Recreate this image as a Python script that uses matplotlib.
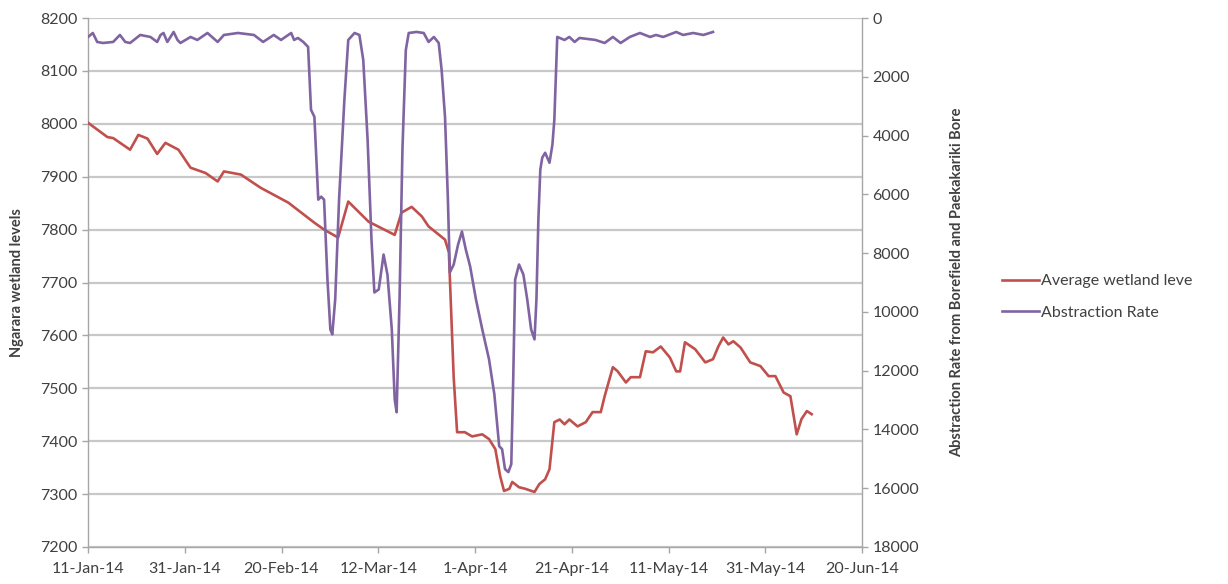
import matplotlib
matplotlib.use("Agg")
import matplotlib.pyplot as plt
import pandas as pd

start = pd.Timestamp("2014-01-11")

# Average wetland level (left axis): day offset from 11-Jan-14, value
level_days = [0, 4.0, 5.2, 8.7, 10.4, 12.3, 14.3, 16.0, 18.7, 21.2, 24.3, 26.8, 28.1, 31.6,
              35.7, 41.4, 46.8, 48.8, 51.7, 53.8, 58.0, 63.4, 64.8, 66.9, 69.0, 70.4, 73.8,
              74.6, 75.6, 76.3, 77.9, 79.4, 81.5, 82.9, 84.2, 85.2, 86.0, 87.1, 87.7, 89.1,
              90.4, 92.3, 93.3, 94.5, 95.4, 96.4, 97.5, 98.5, 99.5, 101.2, 102.9, 104.3,
              106.0, 106.8, 108.5, 109.5, 111.2, 112.2, 114.1, 115.3, 116.8, 118.4, 120.3,
              121.6, 122.4, 123.4, 125.5, 127.6, 129.2, 130.3, 131.3, 132.4, 133.4, 134.9,
              136.9, 139.0, 140.7, 142.1, 143.8, 145.2, 146.5, 147.5, 148.6, 149.6]
level_vals = [8002, 7975, 7973, 7951, 7979, 7972, 7943, 7964, 7951, 7917, 7907, 7891, 7910, 7904,
              7879, 7851, 7813, 7800, 7785, 7853, 7815, 7790, 7832, 7843, 7825, 7806, 7781,
              7757, 7520, 7417, 7417, 7409, 7413, 7404, 7385, 7334, 7306, 7310, 7323, 7313,
              7310, 7304, 7319, 7328, 7347, 7436, 7441, 7432, 7441, 7428, 7436, 7455,
              7455, 7485, 7540, 7532, 7511, 7521, 7521, 7570, 7568, 7579, 7558,
              7532, 7532, 7587, 7574, 7549, 7555, 7579, 7596, 7583, 7589, 7577,
              7549, 7542, 7523, 7523, 7492, 7485, 7413, 7442, 7457, 7451]

# Abstraction rate (right axis, inverted): day offset, value
abs_days = [0, 1.0, 1.9, 3.1, 5.2, 6.6, 7.7, 8.7, 10.8, 12.9, 14.3, 15.0, 15.6, 16.4, 17.7,
            18.5, 19.1, 21.2, 22.6, 24.7, 26.8, 28.1, 31.0, 34.3, 36.2, 38.4, 39.9, 41.4,
            42.0, 42.6, 43.4, 44.5, 45.5, 46.1, 46.8, 47.6, 48.2, 48.8, 49.5, 50.1, 50.5,
            51.1, 51.9, 53.0, 53.8, 55.1, 56.1, 56.9, 57.8, 58.6, 59.2, 60.1, 61.1, 61.9,
            62.8, 63.4, 63.8, 64.4, 65.0, 65.7, 66.3, 67.9, 69.4, 70.4, 71.5, 72.5, 73.1,
            73.8, 74.4, 74.8, 75.6, 76.5, 77.3, 78.1, 79.0, 80.2, 81.5, 82.9, 84.0, 85.0,
            85.6, 86.2, 86.9, 87.5, 87.9, 88.3, 89.1, 90.0, 90.8, 91.6, 92.3, 92.7, 93.1,
            93.5, 93.9, 94.5, 95.4, 96.0, 96.4, 97.0, 98.5, 99.5, 100.6, 101.6, 104.9,
            106.8, 108.5, 110.1, 112.0, 114.1, 116.2, 117.4, 118.9, 121.6, 123.0, 125.1,
            127.2, 129.2]
abs_vals = [645, 510, 815, 850, 815, 577, 815, 850, 577, 645, 815, 577, 510, 815, 475,
            747, 850, 645, 747, 510, 815, 577, 510, 577, 815, 577, 747, 577,
            510, 747, 679, 815, 985, 3124, 3362, 6181, 6079, 6181, 8900, 10600, 10765,
            9577, 6181, 2785, 747, 510, 577, 1426, 4143, 7539, 9339, 9237, 8049, 8728,
            10595, 12973, 13414, 9577, 4483, 1087, 510, 475, 510, 815, 645, 850, 1766,
            3362, 6181, 8660, 8388, 7709, 7267, 7879, 8456, 9577, 10595, 11614, 12803, 14569,
            14671, 15350, 15452, 15180, 12293, 8898, 8388, 8728, 9577, 10595, 10935, 9577, 6860,
            5162, 4754, 4585, 4924, 4313, 3464, 645, 747, 645, 815, 679, 747,
            850, 645, 850, 645, 510, 645, 577, 645, 475, 577, 510,
            577, 475]

x_ticks = ["2014-01-11", "2014-01-31", "2014-02-20", "2014-03-12", "2014-04-01",
           "2014-04-21", "2014-05-11", "2014-05-31", "2014-06-20"]

level_dates = start + pd.to_timedelta(level_days, unit="D")
abs_dates = start + pd.to_timedelta(abs_days, unit="D")

plt.rcParams['font.family'] = ['Lato', 'DejaVu Sans']
red = "#C0504D"
purple = "#8064A2"
txt = "#404040"

fig = plt.figure(figsize=(12.28, 5.84), dpi=100)
ax = fig.add_axes([88/1228, 37/584, 774/1228, 529/584])
ax2 = ax.twinx()

l1, = ax.plot(level_dates, level_vals, color=red, lw=1.9, label="Average wetland leve", zorder=3)
l2, = ax2.plot(abs_dates, abs_vals, color=purple, lw=1.9, label="Abstraction Rate", zorder=3)

ax.set_ylim(7200, 8200)
ax.set_yticks(range(7200, 8201, 100))
ax2.set_ylim(18000, 0)
ax2.set_yticks(range(0, 18001, 2000))

tick_dates = pd.to_datetime(x_ticks)
ax.set_xlim(tick_dates[0], tick_dates[-1])
ax.set_xticks(tick_dates)
ax.set_xticklabels([d.strftime("%-d-%b-%y") for d in tick_dates])

ax.grid(axis="y", color="#C8C8C8", lw=1.6)
ax.set_axisbelow(True)
for a in (ax, ax2):
    a.spines["top"].set_visible(False)
    for s in ("left", "right", "bottom"):
        a.spines[s].set_color("#A6A6A6")
        a.spines[s].set_linewidth(1.0)
    a.tick_params(colors="#A6A6A6", labelcolor=txt, labelsize=11.5, length=4, width=1)
ax.tick_params(axis="x", pad=7)
ax.spines["right"].set_visible(False)
ax2.spines["left"].set_visible(False)
ax2.spines["bottom"].set_visible(False)

ax.set_ylabel("Ngarara wetland levels", fontsize=10.5, color=txt, fontweight="bold", labelpad=12)
ax2.set_ylabel("Abstraction Rate from Borefield and Paekakariki Bore", fontsize=10.5,
               color=txt, fontweight="bold", labelpad=22)

fig.legend(handles=[l1, l2], loc="center left", bbox_to_anchor=(988/1228, 1 - 297/584),
           frameon=False, fontsize=11.5, handlelength=2.3, handletextpad=0.1,
           labelspacing=1.1, labelcolor=txt)

fig.savefig("out.png", dpi=100, facecolor="white")
